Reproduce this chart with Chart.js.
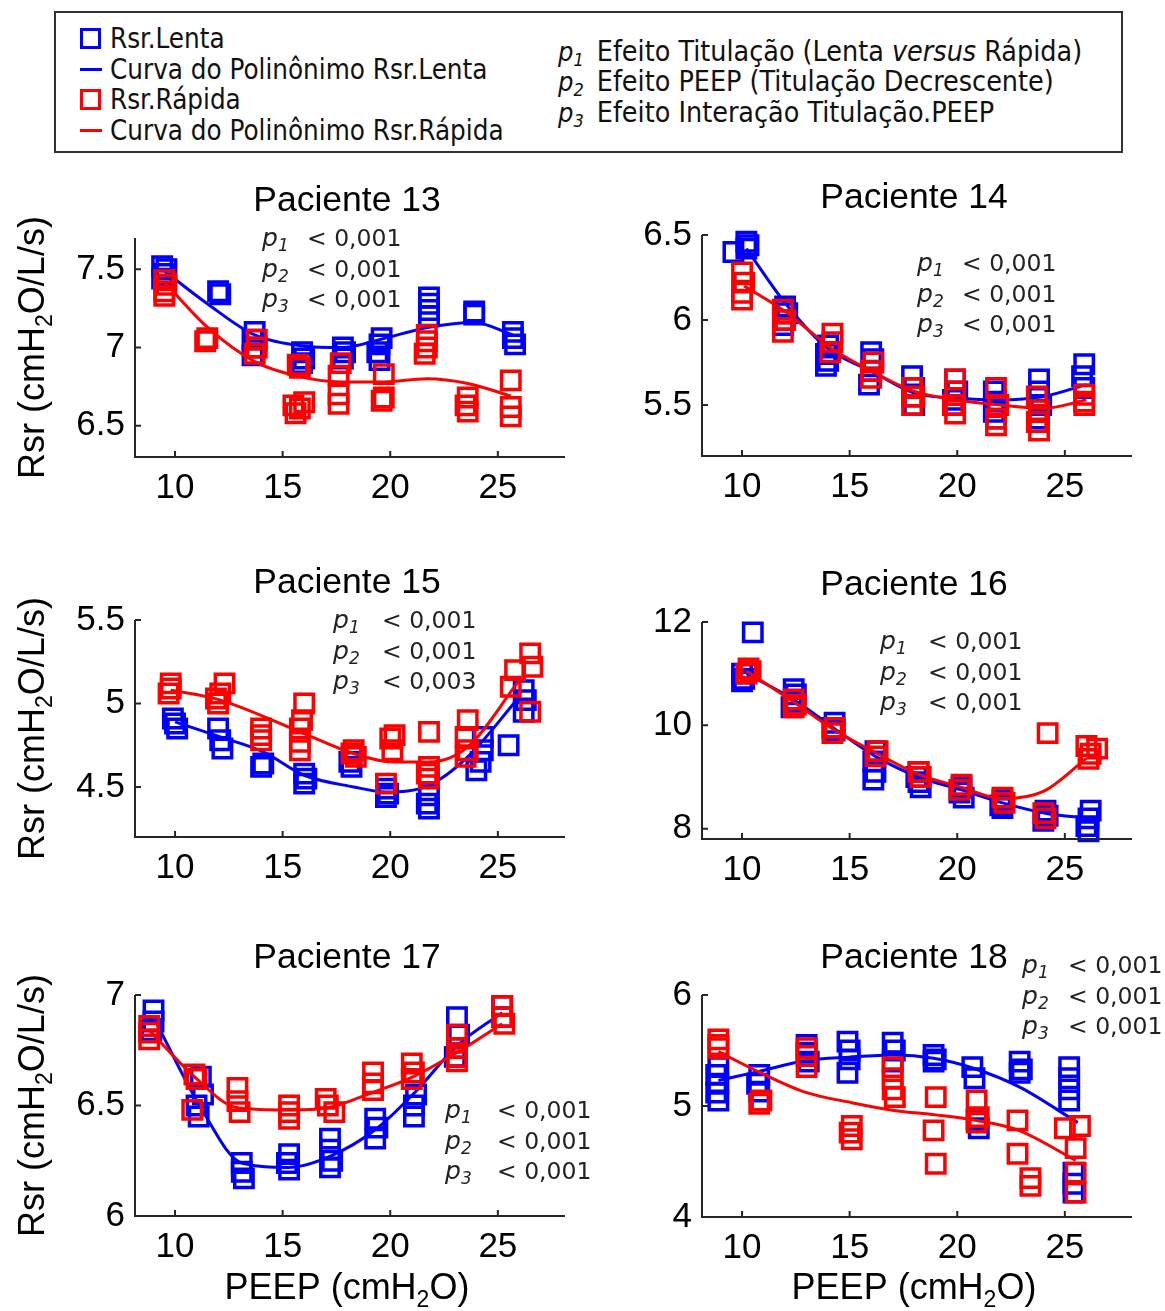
<!DOCTYPE html>
<html lang="pt">
<head>
<meta charset="utf-8">
<title>Rsr x PEEP - Pacientes 13 a 18</title>
<script src="https://cdn.jsdelivr.net/npm/chart.js@4.4.1/dist/chart.umd.min.js"></script>
<style>
  body { margin: 0; background: #fff; }
  #pagina { position: relative; width: 1165px; height: 1311px; overflow: hidden; }
  #pagina canvas { position: absolute; }
  #legenda { position: absolute; left: 54px; top: 11px; width: 1069px; height: 142px; box-sizing: border-box;
             border: 2px solid #333; font-family: "DejaVu Sans Condensed", "DejaVu Sans", sans-serif;
             font-size: 27.5px; color: #111; }
  #legenda .linha { position: absolute; height: 30px; line-height: 30px; white-space: nowrap; }
  #legenda .efeito { font-size: 28.4px; }
  #legenda .quad { position: absolute; left: 24px; top: 5px; width: 15px; height: 15px; border: 3px solid; }
  #legenda .traco { position: absolute; left: 24px; top: 14px; width: 22px; height: 3px; }
  #legenda .txt { position: absolute; left: 54px; top: 0; }
  #legenda .p { font-style: italic; font-size: 27px; }
  #legenda sub { font-style: italic; font-size: 18px; vertical-align: -5px; margin-right: 13px; }
</style>
</head>
<body>
<div id="pagina">
  <div id="legenda">
    <div class="linha" style="left:0;top:10px"><span class="quad" style="border-color:#0000ff"></span><span class="txt">Rsr.Lenta</span></div>
    <div class="linha" style="left:0;top:41px"><span class="traco" style="background:#0000ff"></span><span class="txt">Curva do Polinônimo Rsr.Lenta</span></div>
    <div class="linha" style="left:0;top:71px"><span class="quad" style="border-color:#ff0000"></span><span class="txt">Rsr.Rápida</span></div>
    <div class="linha" style="left:0;top:102px"><span class="traco" style="background:#ff0000"></span><span class="txt">Curva do Polinônimo Rsr.Rápida</span></div>
    <div class="linha efeito" style="left:502px;top:24px"><span class="p">p</span><sub>1</sub>Efeito Titulação (Lenta <i>versus</i> Rápida)</div>
    <div class="linha efeito" style="left:502px;top:54px"><span class="p">p</span><sub>2</sub>Efeito PEEP (Titulação Decrescente)</div>
    <div class="linha efeito" style="left:502px;top:85px"><span class="p">p</span><sub>3</sub>Efeito Interação Titulação.PEEP</div>
  </div>
  <canvas id="c13" width="590" height="350" style="left:0;top:160px"></canvas>
  <canvas id="c14" width="575" height="350" style="left:590px;top:160px"></canvas>
  <canvas id="c15" width="590" height="350" style="left:0;top:540px"></canvas>
  <canvas id="c16" width="575" height="350" style="left:590px;top:540px"></canvas>
  <canvas id="c17" width="590" height="391" style="left:0;top:920px"></canvas>
  <canvas id="c18" width="575" height="391" style="left:590px;top:920px"></canvas>
</div>
<script>
// PEEP (cmH2O) x Rsr (cmH2O/L/s), pares [peep, rsr]
const xTicks = [10, 15, 20, 25];
const xFaixa = [8.14, 28.12];

// Paciente 13
const p13Ticks = [6.5, 7, 7.5];
const p13Faixa = [6.3, 7.7];
const p13Valores = ['< 0,001', '< 0,001', '< 0,001'];
const p13Lenta = [[9.4,7.52],[9.6,7.50],[9.5,7.47],[9.4,7.44],[12.0,7.36],[12.1,7.34],
  [13.7,7.10],[13.6,7.05],[13.7,7.00],[13.6,6.95],[15.9,6.97],[16.0,6.93],[15.9,6.90],
  [17.8,7.00],[17.9,6.97],[17.8,6.93],[19.6,7.06],[19.5,7.02],[19.4,6.97],[19.5,6.92],
  [21.8,7.32],[21.8,7.28],[21.8,7.24],[21.8,7.20],[23.9,7.23],[23.9,7.21],
  [25.7,7.10],[25.7,7.06],[25.8,7.02]];
const p13CurvaLenta = [[9.5,7.49],[11.5,7.28],[13.7,7.08],[15.9,7.01],[17.8,7.00],[19.5,7.05],
  [21.8,7.13],[23.9,7.16],[25.7,7.08]];
const p13Rapida = [[9.5,7.43],[9.6,7.40],[9.5,7.36],[9.5,7.33],[11.5,7.06],[11.4,7.04],
  [13.8,7.05],[13.8,7.00],[13.7,6.96],[15.7,6.89],[15.8,6.87],[15.5,6.63],[15.8,6.61],[15.6,6.58],[16.0,6.65],
  [17.7,6.90],[17.6,6.82],[17.6,6.70],[17.6,6.64],[19.7,6.83],[19.7,6.68],[19.6,6.66],
  [21.7,7.08],[21.7,7.04],[21.7,7.00],[21.6,6.96],[23.6,6.68],[23.5,6.63],[23.6,6.59],
  [25.6,6.79],[25.6,6.62],[25.6,6.56]];
const p13CurvaRapida = [[9.5,7.42],[11.5,7.13],[13.7,6.91],[15.6,6.82],[17.7,6.78],[19.7,6.78],
  [21.7,6.80],[23.6,6.77],[25.6,6.69]];

// Paciente 14
const p14Ticks = [5.5, 6, 6.5];
const p14Faixa = [5.2, 6.5];
const p14Valores = ['< 0,001', '< 0,001', '< 0,001'];
const p14Lenta = [[9.6,6.40],[10.2,6.46],[10.3,6.44],[10.2,6.42],[12.0,6.08],[12.1,6.04],[12.0,6.00],[11.9,5.97],
  [14.0,5.85],[13.9,5.80],[14.0,5.76],[13.9,5.73],[16.0,5.81],[16.1,5.77],[16.0,5.70],[15.9,5.62],
  [17.9,5.67],[18.0,5.60],[17.9,5.55],[18.0,5.50],[19.9,5.65],[20.0,5.58],[19.8,5.53],[19.9,5.50],
  [21.7,5.58],[21.8,5.52],[21.7,5.46],[21.8,5.42],[23.8,5.65],[23.8,5.58],[23.9,5.50],[23.8,5.42],
  [25.9,5.74],[25.8,5.67],[25.9,5.60]];
const p14CurvaLenta = [[10.2,6.42],[12.0,6.10],[14.0,5.83],[16.0,5.70],[18.0,5.57],[20.0,5.54],
  [22.0,5.53],[24.0,5.55],[26.0,5.62]];
const p14Rapida = [[10.0,6.28],[10.1,6.22],[10.0,6.16],[10.0,6.12],[11.9,6.06],[12.0,6.00],[11.9,5.93],
  [14.2,5.92],[14.2,5.87],[14.1,5.81],[16.1,5.75],[16.0,5.70],[16.0,5.66],[17.9,5.60],[18.0,5.55],[17.9,5.50],
  [19.9,5.65],[19.9,5.58],[19.8,5.50],[19.9,5.45],[21.8,5.60],[21.9,5.50],[21.8,5.42],[21.8,5.38],
  [23.7,5.55],[23.8,5.47],[23.7,5.40],[23.8,5.35],[25.9,5.56],[25.9,5.52],[25.9,5.50]];
const p14CurvaRapida = [[10.1,6.20],[12.0,6.05],[14.2,5.83],[16.0,5.70],[18.0,5.58],[20.0,5.53],
  [22.0,5.50],[24.0,5.48],[26.0,5.53]];

// Paciente 15
const p15Ticks = [4.5, 5, 5.5];
const p15Faixa = [4.2, 5.5];
const p15Valores = ['< 0,001', '< 0,001', '< 0,003'];
const p15Lenta = [[9.9,4.91],[10.0,4.88],[10.1,4.85],[12.0,4.85],[12.1,4.78],[12.2,4.73],
  [14.1,4.64],[14.0,4.62],[16.0,4.58],[16.1,4.55],[16.0,4.52],[18.1,4.65],[18.2,4.62],
  [19.8,4.49],[19.9,4.46],[19.8,4.44],[21.8,4.45],[21.7,4.40],[21.8,4.37],
  [24.3,4.80],[24.3,4.72],[24.2,4.65],[24.0,4.60],[25.5,4.75],[26.2,5.08],[26.3,5.02],[26.2,4.95]];
const p15CurvaLenta = [[10.0,4.89],[12.1,4.80],[14.1,4.71],[16.0,4.57],[18.3,4.50],[19.8,4.47],
  [21.8,4.51],[23.6,4.68],[26.0,5.04]];
const p15Rapida = [[9.8,5.12],[9.8,5.09],[9.7,5.06],[12.3,5.12],[12.1,5.06],[11.9,5.03],[12.0,5.00],
  [14.0,4.85],[14.0,4.81],[14.0,4.78],[16.0,5.00],[15.9,4.90],[15.8,4.85],[15.8,4.77],[15.8,4.72],
  [18.3,4.72],[18.2,4.70],[18.4,4.68],[20.2,4.81],[20.0,4.79],[20.1,4.72],[19.8,4.52],
  [21.8,4.83],[21.8,4.62],[21.7,4.58],[21.8,4.55],[23.6,4.90],[23.5,4.80],[23.6,4.72],[23.5,4.68],
  [26.5,5.30],[26.6,5.22],[25.8,5.20],[25.6,5.10],[26.5,4.95]];
const p15CurvaRapida = [[9.8,5.08],[12.1,5.02],[15.8,4.83],[18.3,4.70],[20.1,4.65],[21.8,4.65],
  [23.6,4.74],[26.0,5.14]];

// Paciente 16
const p16Ticks = [8, 10, 12];
const p16Faixa = [7.8, 12];
const p16Valores = ['< 0,001', '< 0,001', '< 0,001'];
const p16Lenta = [[10.5,11.8],[10.0,11.0],[10.1,10.9],[10.0,10.85],[12.4,10.7],[12.5,10.6],[12.4,10.45],[12.3,10.35],
  [14.3,10.05],[14.2,9.95],[14.3,9.9],[16.2,9.5],[16.1,9.3],[16.2,9.1],[16.1,8.95],
  [18.2,9.1],[18.1,9.0],[18.2,8.9],[18.3,8.8],[20.2,8.8],[20.1,8.7],[20.3,8.6],
  [22.1,8.55],[22.0,8.45],[22.1,8.4],[24.1,8.35],[24.2,8.25],[24.0,8.15],
  [26.2,8.35],[26.1,8.2],[26.0,8.05],[26.1,7.95]];
const p16CurvaLenta = [[10.2,11.0],[12.4,10.5],[14.25,9.95],[16.2,9.4],[18.2,9.0],[20.2,8.75],
  [22.1,8.5],[24.1,8.3],[26.1,8.2]];
const p16Rapida = [[10.3,11.1],[10.4,11.05],[10.2,11.0],[12.4,10.5],[12.5,10.4],[12.4,10.35],
  [14.3,9.95],[14.2,9.85],[16.3,9.5],[16.2,9.4],[18.2,9.1],[18.3,9.0],[20.2,8.85],[20.1,8.75],
  [22.1,8.6],[22.2,8.5],[24.0,8.3],[24.1,8.2],[24.2,9.85],[26.0,9.6],[26.5,9.55],[26.2,9.45],[26.1,9.35]];
const p16CurvaRapida = [[10.2,11.05],[12.4,10.45],[14.25,9.92],[16.3,9.45],[18.2,9.05],[20.2,8.8],
  [22.1,8.58],[24.0,8.72],[26.0,9.36]];

// Paciente 17
const p17Ticks = [6, 6.5, 7];
const p17Faixa = [6, 7];
const p17Valores = ['< 0,001', '< 0,001', '< 0,001'];
const p17Lenta = [[9.0,6.93],[9.0,6.88],[8.9,6.84],[11.2,6.63],[11.3,6.55],[11.0,6.50],[11.1,6.45],
  [13.1,6.24],[13.1,6.20],[13.2,6.17],[15.3,6.28],[15.2,6.24],[15.3,6.21],
  [17.2,6.35],[17.2,6.30],[17.3,6.25],[17.2,6.22],[19.3,6.44],[19.4,6.40],[19.3,6.35],
  [21.2,6.55],[21.1,6.50],[21.1,6.45],[23.1,6.90],[23.2,6.82],[23.1,6.76],[23.0,6.72],
  [25.2,6.95],[25.2,6.90]];
const p17CurvaLenta = [[9.0,6.90],[11.2,6.49],[13.1,6.24],[15.25,6.22],[17.2,6.27],[19.3,6.39],
  [21.15,6.56],[23.1,6.77],[25.2,6.92]];
const p17Rapida = [[8.8,6.86],[8.8,6.83],[8.8,6.80],[10.9,6.64],[11.0,6.62],[10.8,6.48],
  [12.9,6.58],[12.9,6.52],[13.0,6.47],[15.3,6.50],[15.3,6.47],[15.3,6.44],
  [17.0,6.53],[17.1,6.50],[17.4,6.47],[19.2,6.65],[19.2,6.60],[19.2,6.57],
  [21.0,6.69],[21.1,6.65],[21.0,6.62],[23.1,6.82],[23.1,6.76],[23.1,6.72],[23.1,6.70],
  [25.2,6.95],[25.2,6.90],[25.3,6.87]];
const p17CurvaRapida = [[8.8,6.84],[10.9,6.63],[12.9,6.49],[15.3,6.48],[17.1,6.49],[19.2,6.56],
  [21.05,6.63],[23.1,6.74],[25.2,6.87]];

// Paciente 18
const p18Ticks = [4, 5, 6];
const p18Faixa = [4, 6];
const p18Valores = ['< 0,001', '< 0,001', '< 0,001'];
const p18Lenta = [[8.9,5.35],[8.8,5.28],[8.9,5.20],[8.8,5.12],[8.9,5.05],[10.8,5.28],[10.7,5.20],[10.8,5.13],
  [13.0,5.55],[13.0,5.48],[13.1,5.40],[14.9,5.58],[15.0,5.50],[15.0,5.42],[14.9,5.30],
  [17.0,5.57],[17.1,5.50],[17.0,5.40],[18.9,5.46],[19.0,5.42],[18.9,5.40],
  [20.7,5.35],[20.8,5.25],[20.9,4.88],[21.0,4.80],[22.9,5.40],[23.0,5.33],[22.9,5.30],
  [25.2,5.35],[25.2,5.25],[25.2,5.15],[25.2,5.05],[25.4,4.40],[25.4,4.30],[25.4,4.22]];
const p18CurvaLenta = [[8.9,5.23],[10.75,5.31],[13.0,5.41],[14.95,5.44],[17.05,5.46],[18.9,5.43],
  [20.75,5.34],[22.9,5.17],[25.6,4.85]];
const p18Rapida = [[8.9,5.60],[8.9,5.55],[8.9,5.52],[10.9,5.05],[10.8,5.02],
  [13.0,5.52],[13.0,5.45],[13.0,5.35],[15.1,4.82],[15.0,4.76],[15.1,4.70],
  [17.0,5.35],[17.0,5.25],[17.0,5.15],[17.1,5.08],[19.0,5.08],[18.9,4.78],[19.0,4.48],
  [20.9,5.05],[21.0,4.90],[20.9,4.85],[22.8,4.87],[22.8,4.57],[23.4,4.35],[23.4,4.28],
  [25.0,4.80],[25.7,4.82],[25.5,4.62],[25.5,4.40],[25.5,4.22]];
const p18CurvaRapida = [[8.9,5.49],[10.85,5.30],[13.0,5.12],[15.1,5.03],[17.05,4.96],[19.0,4.92],
  [20.9,4.87],[22.85,4.78],[25.5,4.51]];

const AZUL = '#0000ff';
const VERMELHO = '#ff0000';
const fonteArial = '"Liberation Sans", Arial, sans-serif';
const fonteP = '"DejaVu Sans", Verdana, sans-serif';

const pontos = pares => pares.map(([x, y]) => ({ x, y }));

// texto com subscrito "2" (cmH2O); rot = true escreve de baixo para cima
function textoH2O(ctx, partes, cx, cy, rot) {
  ctx.save();
  ctx.translate(cx, cy);
  if (rot) ctx.rotate(-Math.PI / 2);
  ctx.fillStyle = '#000';
  ctx.textBaseline = 'alphabetic';
  const grande = '36px ' + fonteArial, pequeno = '23px ' + fonteArial;
  ctx.font = grande; const w1 = ctx.measureText(partes[0]).width, w3 = ctx.measureText(partes[2]).width;
  ctx.font = pequeno; const w2 = ctx.measureText(partes[1]).width;
  let x = -(w1 + w2 + w3) / 2;
  ctx.font = grande; ctx.fillText(partes[0], x, 13); x += w1;
  ctx.font = pequeno; ctx.fillText(partes[1], x, 21); x += w2;
  ctx.font = grande; ctx.fillText(partes[2], x, 13);
  ctx.restore();
}

// eixos à moda do MATLAB: só esquerda e base, marcas para dentro, título e valores de p
const quadro = {
  id: 'quadro',
  afterDraw(chart, args, o) {
    const { ctx, chartArea: a, scales } = chart;
    ctx.save();
    ctx.strokeStyle = '#262626';
    ctx.lineWidth = 2;
    ctx.beginPath();
    ctx.moveTo(a.left, a.top); ctx.lineTo(a.left, a.bottom); ctx.lineTo(a.right, a.bottom);
    scales.x.ticks.forEach(t => {
      const px = scales.x.getPixelForValue(t.value);
      ctx.moveTo(px, a.bottom); ctx.lineTo(px, a.bottom - 6);
    });
    scales.y.ticks.forEach(t => {
      const py = scales.y.getPixelForValue(t.value);
      ctx.moveTo(a.left, py); ctx.lineTo(a.left + 6, py);
    });
    ctx.stroke();

    ctx.fillStyle = '#000';
    ctx.font = '35.5px ' + fonteArial;
    ctx.textAlign = 'center';
    ctx.textBaseline = 'alphabetic';
    ctx.fillText(o.titulo, (a.left + a.right) / 2 - 3, a.top - 27);

    // p1, p2, p3
    ctx.textAlign = 'left';
    ctx.fillStyle = '#222';
    o.valores.forEach((v, i) => {
      const x = o.p[0] - o.origem[0], y = o.p[1] - o.origem[1] + i * 30.5;
      ctx.font = 'italic 25px ' + fonteP; ctx.fillText('p', x, y);
      ctx.font = 'italic 17px ' + fonteP; ctx.fillText(String(i + 1), x + 16, y + 5);
      ctx.font = '23.5px ' + fonteP; ctx.fillText(v, x + o.p[2], y);
    });
    ctx.restore();

    if (o.tituloY) textoH2O(ctx, ['Rsr (cmH', '2', 'O/L/s)'], 31 - o.origem[0], (a.top + a.bottom) / 2, true);
    if (o.tituloX) textoH2O(ctx, ['PEEP (cmH', '2', 'O)'], (a.left + a.right) / 2 - 3, 1286 - o.origem[1], false);
  }
};

function painel(id, titulo, lenta, curvaLenta, rapida, curvaRapida, faixa, yTicks, valores, g) {
  const c = document.getElementById(id);
  const [cx, cy] = g.origem;
  const [l, t, r, b] = g.area;
  const quadrado = cor => ({
    type: 'scatter', pointStyle: 'rect', pointRadius: 13, pointHoverRadius: 13,
    pointBorderWidth: 3.5, pointBackgroundColor: 'rgba(0,0,0,0)', borderColor: cor, clip: false
  });
  const curva = cor => ({
    type: 'scatter', showLine: true, pointRadius: 0, borderColor: cor, borderWidth: 3,
    cubicInterpolationMode: 'monotone', clip: false
  });
  new Chart(c, {
    type: 'scatter',
    data: {
      datasets: [
        { ...curva(VERMELHO), label: 'Curva do Polinônimo Rsr.Rápida', data: pontos(curvaRapida) },
        { ...quadrado(VERMELHO), label: 'Rsr.Rápida', data: pontos(rapida) },
        { ...curva(AZUL), label: 'Curva do Polinônimo Rsr.Lenta', data: pontos(curvaLenta) },
        { ...quadrado(AZUL), label: 'Rsr.Lenta', data: pontos(lenta) }
      ]
    },
    options: {
      responsive: false,
      animation: false,
      events: [],
      layout: { autoPadding: false, padding: { top: t - cy, right: cx + c.width - r, left: 0, bottom: 0 } },
      plugins: {
        legend: { display: false },
        tooltip: { enabled: false },
        quadro: { titulo, valores, origem: g.origem, p: g.p, tituloY: g.tituloY, tituloX: g.tituloX }
      },
      scales: {
        x: {
          type: 'linear', min: xFaixa[0], max: xFaixa[1],
          grid: { display: false, drawTicks: false }, border: { display: false },
          ticks: { font: { family: fonteArial, size: 35 }, color: '#000', padding: 10, maxRotation: 0, autoSkip: false,
                   callback: v => String(v) },
          afterBuildTicks: s => { s.ticks = xTicks.map(v => ({ value: v })); },
          afterFit: s => { s.height = cy + c.height - b; }
        },
        y: {
          type: 'linear', min: faixa[0], max: faixa[1],
          grid: { display: false, drawTicks: false }, border: { display: false },
          ticks: { font: { family: fonteArial, size: 35 }, color: '#000', padding: 10, autoSkip: false,
                   callback: v => String(v) },
          afterBuildTicks: s => { s.ticks = yTicks.map(v => ({ value: v })); },
          afterFit: s => { s.width = l - cx; }
        }
      }
    },
    plugins: [quadro]
  });
}

painel('c13', 'Paciente 13', p13Lenta, p13CurvaLenta, p13Rapida, p13CurvaRapida, p13Faixa, p13Ticks, p13Valores,
  { origem: [0, 160], area: [135, 238, 565, 457], p: [262, 246, 45], tituloY: true });
painel('c14', 'Paciente 14', p14Lenta, p14CurvaLenta, p14Rapida, p14CurvaRapida, p14Faixa, p14Ticks, p14Valores,
  { origem: [590, 160], area: [702, 235, 1132, 456], p: [917, 271, 45] });
painel('c15', 'Paciente 15', p15Lenta, p15CurvaLenta, p15Rapida, p15CurvaRapida, p15Faixa, p15Ticks, p15Valores,
  { origem: [0, 540], area: [135, 620, 565, 837], p: [333, 628, 49], tituloY: true });
painel('c16', 'Paciente 16', p16Lenta, p16CurvaLenta, p16Rapida, p16CurvaRapida, p16Faixa, p16Ticks, p16Valores,
  { origem: [590, 540], area: [702, 622, 1132, 839], p: [880, 649, 48] });
painel('c17', 'Paciente 17', p17Lenta, p17CurvaLenta, p17Rapida, p17CurvaRapida, p17Faixa, p17Ticks, p17Valores,
  { origem: [0, 920], area: [135, 995, 565, 1216], p: [445, 1118, 52], tituloY: true, tituloX: true });
painel('c18', 'Paciente 18', p18Lenta, p18CurvaLenta, p18Rapida, p18CurvaRapida, p18Faixa, p18Ticks, p18Valores,
  { origem: [590, 920], area: [702, 995, 1132, 1217], p: [1022, 973, 46], tituloX: true });
</script>
</body>
</html>
